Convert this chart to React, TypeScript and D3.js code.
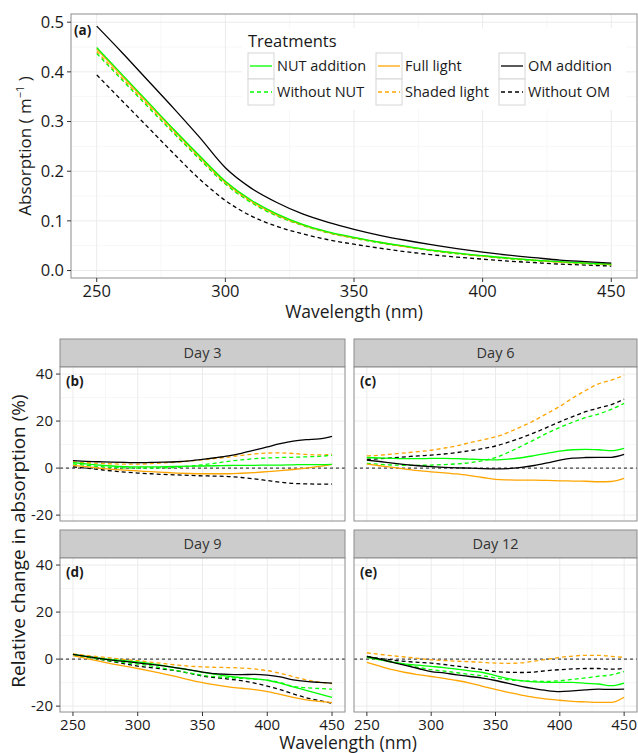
import * as d3 from "d3";

const wavelengths = [250, 260, 270, 280, 290, 300, 310, 320, 330, 340, 350, 360, 370, 380, 390, 400, 410, 420, 430, 440, 450];

// panel (a): absorption (m^-1)
const absNutAdd = [0.449, 0.394, 0.339, 0.284, 0.231, 0.180, 0.142, 0.114, 0.093, 0.078, 0.067, 0.057, 0.049, 0.041, 0.035, 0.030, 0.025, 0.021, 0.018, 0.015, 0.013];
const absWithoutNut = [0.437, 0.383, 0.329, 0.276, 0.224, 0.174, 0.137, 0.110, 0.091, 0.076, 0.065, 0.056, 0.048, 0.040, 0.034, 0.029, 0.024, 0.020, 0.017, 0.014, 0.012];
const absFullLight = [0.446, 0.391, 0.336, 0.282, 0.229, 0.178, 0.140, 0.112, 0.092, 0.077, 0.066, 0.057, 0.048, 0.041, 0.035, 0.029, 0.025, 0.021, 0.017, 0.015, 0.012];
const absShaded = [0.441, 0.386, 0.332, 0.278, 0.226, 0.176, 0.138, 0.111, 0.091, 0.076, 0.066, 0.056, 0.048, 0.040, 0.034, 0.029, 0.024, 0.020, 0.017, 0.014, 0.012];
const absOmAdd = [0.492, 0.438, 0.382, 0.326, 0.268, 0.207, 0.166, 0.137, 0.114, 0.097, 0.083, 0.071, 0.061, 0.052, 0.044, 0.037, 0.031, 0.026, 0.021, 0.018, 0.015];
const absWithoutOm = [0.394, 0.341, 0.288, 0.235, 0.184, 0.141, 0.110, 0.089, 0.074, 0.062, 0.053, 0.045, 0.038, 0.032, 0.027, 0.023, 0.019, 0.016, 0.013, 0.011, 0.009];

// panels (b)-(e): relative change in absorption (%)
const day3 = {
  nutAdd: [2.3, 1.8, 1.3, 0.9, 0.6, 0.5, 0.5, 0.6, 0.7, 0.8, 0.9, 1.0, 1.1, 1.2, 1.2, 1.3, 1.3, 1.4, 1.5, 1.5, 1.6],
  withoutNut: [1.8, 1.2, 0.7, 0.3, 0.1, 0.0, 0.0, 0.1, 0.3, 0.8, 1.4, 2.1, 2.9, 3.5, 4.0, 4.3, 4.5, 4.6, 4.8, 5.0, 5.4],
  fullLight: [1.2, 0.6, 0.0, -0.5, -0.9, -1.2, -1.5, -1.8, -2.1, -2.3, -2.4, -2.4, -2.4, -2.2, -1.9, -1.5, -1.1, -0.6, 0.0, 0.7, 1.6],
  shaded: [2.7, 2.3, 2.0, 1.8, 1.7, 1.7, 1.9, 2.2, 2.5, 3.0, 3.5, 4.1, 4.7, 5.4, 6.0, 6.4, 6.5, 6.2, 5.8, 5.6, 5.8],
  omAdd: [3.2, 2.9, 2.7, 2.5, 2.4, 2.3, 2.4, 2.5, 2.7, 3.1, 3.7, 4.4, 5.2, 6.3, 7.6, 9.0, 10.4, 11.5, 12.1, 12.4, 13.5],
  withoutOm: [0.5, 0.0, -0.6, -1.2, -1.7, -2.1, -2.4, -2.7, -2.9, -3.1, -3.3, -3.4, -3.6, -4.0, -4.6, -5.3, -6.0, -6.5, -6.7, -6.8, -6.8],
};
const day6 = {
  nutAdd: [4.5, 4.3, 4.1, 4.0, 4.0, 4.1, 4.1, 4.0, 3.8, 3.6, 3.5, 3.8, 4.4, 5.3, 6.3, 7.2, 7.8, 8.0, 7.8, 7.4, 8.4],
  withoutNut: [2.0, 1.6, 1.3, 1.2, 1.2, 1.3, 1.5, 1.8, 2.3, 3.2, 4.5, 6.7, 9.3, 12.0, 14.8, 17.3, 19.5, 21.5, 23.0, 25.0, 27.5],
  fullLight: [1.7, 1.0, 0.3, -0.4, -1.1, -1.6, -2.0, -2.5, -3.2, -4.0, -4.8, -5.0, -5.1, -5.1, -5.2, -5.4, -5.5, -5.6, -5.8, -5.7, -4.4],
  shaded: [5.2, 5.5, 6.0, 6.5, 7.0, 7.6, 8.5, 9.5, 10.8, 12.0, 13.3, 15.2, 17.6, 20.2, 23.2, 26.3, 29.8, 33.0, 35.8, 37.4, 39.5],
  omAdd: [3.4, 2.8, 2.1, 1.5, 1.0, 0.6, 0.3, 0.1, 0.0, -0.2, -0.3, -0.2, 0.3, 1.1, 2.2, 3.4, 4.2, 4.5, 4.6, 4.6, 5.8],
  withoutOm: [3.7, 4.0, 4.4, 4.8, 5.2, 5.5, 6.0, 6.6, 7.4, 8.3, 9.4, 11.0, 12.9, 15.0, 17.3, 19.7, 21.9, 24.0, 25.5, 27.0, 29.4],
};
const day9 = {
  nutAdd: [2.0, 1.2, 0.4, -0.2, -0.7, -1.2, -1.9, -2.8, -3.7, -4.6, -5.6, -6.5, -7.3, -7.9, -8.4, -9.0, -10.2, -11.8, -13.3, -14.8, -16.3],
  withoutNut: [2.0, 1.0, 0.0, -0.8, -1.5, -2.1, -2.9, -3.9, -4.9, -5.9, -6.9, -7.5, -7.9, -8.2, -8.5, -8.9, -10.0, -11.6, -12.2, -12.5, -12.8],
  fullLight: [1.5, 0.3, -0.9, -2.0, -3.0, -4.0, -5.1, -6.3, -7.5, -8.8, -10.0, -11.0, -11.8, -12.4, -13.0, -13.8, -15.0, -16.3, -17.3, -18.0, -18.5],
  shaded: [2.2, 1.6, 1.0, 0.4, -0.2, -0.7, -1.3, -1.9, -2.5, -3.0, -3.3, -3.5, -3.6, -3.8, -4.2, -4.9, -6.0, -7.5, -8.8, -9.8, -10.4],
  omAdd: [2.0, 1.2, 0.3, -0.4, -1.0, -1.6, -2.2, -2.9, -3.7, -4.6, -5.5, -6.2, -6.5, -6.6, -6.5, -6.8, -7.6, -8.8, -9.5, -9.9, -10.2],
  withoutOm: [2.0, 1.0, 0.0, -1.0, -2.0, -3.0, -3.6, -4.3, -5.0, -6.0, -7.2, -7.9, -8.5, -9.2, -10.2, -11.5, -13.0, -14.8, -16.4, -17.6, -18.8],
};
const day12 = {
  nutAdd: [0.7, -0.3, -1.3, -2.1, -2.6, -3.1, -3.6, -4.3, -5.0, -5.7, -7.0, -8.3, -9.2, -9.7, -9.9, -9.9, -9.9, -10.3, -10.6, -11.3, -10.2],
  withoutNut: [1.1, 0.0, -1.2, -2.3, -3.5, -4.5, -5.1, -5.8, -6.5, -7.1, -8.0, -8.8, -9.2, -9.4, -9.5, -9.2, -8.6, -8.0, -7.3, -6.7, -5.3],
  fullLight: [-1.4, -3.0, -4.5, -5.7, -6.6, -7.4, -8.2, -9.1, -10.2, -11.6, -12.9, -14.2, -15.3, -16.3, -17.0, -17.5, -18.0, -18.2, -18.4, -18.4, -16.2],
  shaded: [2.7, 2.0, 1.4, 0.9, 0.3, -0.3, -0.6, -0.9, -1.1, -1.4, -1.7, -1.8, -1.6, -0.9, -0.1, 0.7, 1.3, 1.6, 1.6, 1.2, 0.7],
  omAdd: [1.1, 0.0, -1.4, -2.7, -4.0, -5.3, -5.9, -6.7, -7.4, -8.1, -9.1, -10.3, -11.6, -12.6, -13.4, -13.8, -13.5, -13.1, -12.8, -12.9, -12.8],
  withoutOm: [1.1, 0.3, -0.4, -1.0, -1.4, -1.7, -2.3, -3.0, -3.7, -4.5, -5.3, -5.6, -5.7, -5.5, -4.9, -4.5, -4.2, -4.0, -4.0, -4.3, -4.0],
};

const facetDays = ["Day 3", "Day 6", "Day 9", "Day 12"];
const facetTags = ["(b)", "(c)", "(d)", "(e)"];
const facetData = [day3, day6, day9, day12];

const treatments = [
  { key: "nutAdd", label: "NUT addition", color: "#00ff00", dashed: false },
  { key: "withoutNut", label: "Without NUT", color: "#00ff00", dashed: true },
  { key: "fullLight", label: "Full light", color: "#ffa500", dashed: false },
  { key: "shaded", label: "Shaded light", color: "#ffa500", dashed: true },
  { key: "omAdd", label: "OM addition", color: "#000000", dashed: false },
  { key: "withoutOm", label: "Without OM", color: "#000000", dashed: true },
];
const absSeries: Record<string, number[]> = {
  nutAdd: absNutAdd,
  withoutNut: absWithoutNut,
  fullLight: absFullLight,
  shaded: absShaded,
  omAdd: absOmAdd,
  withoutOm: absWithoutOm,
};
// drawing order (back to front)
const drawOrder = ["withoutOm", "shaded", "withoutNut", "fullLight", "nutAdd", "omAdd"];

const xTicks = [250, 300, 350, 400, 450];
const xMinor = [275, 325, 375, 425];
const absTicks = [0, 0.1, 0.2, 0.3, 0.4, 0.5];
const absMinor = [0.05, 0.15, 0.25, 0.35, 0.45];
const relTicks = [-20, 0, 20, 40];
const relMinor = [-10, 10, 30];

const FONT = "'Open Sans', 'Noto Sans', sans-serif";
const TXT = "#1a1a1a";
const GRID = "#ebebeb";
const GRID_MINOR = "#f7f7f7";
const BORDER = "#8c8c8c";
const DASH = "4,3";

function Series({ xs, ys, x, y }: { xs: number[]; ys: Record<string, number[]>; x: any; y: any }) {
  return (
    <g>
      {drawOrder.map((k) => {
        const t = treatments.find((d) => d.key === k)!;
        const line = d3
          .line<number>()
          .x((_, i) => x(xs[i]))
          .y((v) => y(v))
          .curve(d3.curveMonotoneX);
        return (
          <path
            key={k}
            d={line(ys[k]) || ""}
            fill="none"
            stroke={t.color}
            strokeWidth={1.3}
            strokeDasharray={t.dashed ? DASH : undefined}
          />
        );
      })}
    </g>
  );
}

export default function App() {
  // ---- panel (a)
  const a = { l: 71, r: 637, t: 14, b: 278 };
  const xa = d3.scaleLinear().domain([240, 460]).range([a.l, a.r]);
  const ya = d3.scaleLinear().domain([-0.015, 0.5165]).range([a.b, a.t]);

  // ---- facets
  const cols = [
    [60, 345],
    [354, 637],
  ];
  const rows = [
    { st: 339, t: 367, b: 521 },
    { st: 530, t: 558, b: 712 },
  ];

  const legendCols = [248, 376, 499];
  const legendRows = [53, 79];

  return (
    <svg width={638} height={753} style={{ position: "absolute", left: 0, top: 0 }} fontFamily={FONT}>
      <rect width={638} height={753} fill="#fff" />
      {/* panel (a) */}
      <g>
        <rect x={a.l} y={a.t} width={a.r - a.l} height={a.b - a.t} fill="#fff" />
        {xMinor.map((v) => (
          <line key={"xm" + v} x1={xa(v)} x2={xa(v)} y1={a.t} y2={a.b} stroke={GRID_MINOR} strokeWidth={1} />
        ))}
        {absMinor.map((v) => (
          <line key={"ym" + v} x1={a.l} x2={a.r} y1={ya(v)} y2={ya(v)} stroke={GRID_MINOR} strokeWidth={1} />
        ))}
        {xTicks.map((v) => (
          <line key={"xg" + v} x1={xa(v)} x2={xa(v)} y1={a.t} y2={a.b} stroke={GRID} strokeWidth={1} />
        ))}
        {absTicks.map((v) => (
          <line key={"yg" + v} x1={a.l} x2={a.r} y1={ya(v)} y2={ya(v)} stroke={GRID} strokeWidth={1} />
        ))}
        <Series xs={wavelengths} ys={absSeries} x={xa} y={ya} />
        <rect x={a.l} y={a.t} width={a.r - a.l} height={a.b - a.t} fill="none" stroke={BORDER} strokeWidth={1} />
        <text x={74} y={35} fontSize={13.5} fontWeight="bold" fill={TXT}>(a)</text>
        {absTicks.map((v) => (
          <g key={"yt" + v}>
            <line x1={a.l - 4} x2={a.l} y1={ya(v)} y2={ya(v)} stroke="#333" />
            <text x={a.l - 7} y={ya(v)} dy="0.35em" textAnchor="end" fontSize={16.5} fill={TXT}>
              {v.toFixed(1)}
            </text>
          </g>
        ))}
        {xTicks.map((v) => (
          <g key={"xt" + v}>
            <line x1={xa(v)} x2={xa(v)} y1={a.b} y2={a.b + 4} stroke="#333" />
            <text x={xa(v)} y={a.b + 19} textAnchor="middle" fontSize={16.5} fill={TXT}>
              {v}
            </text>
          </g>
        ))}
        <text x={(a.l + a.r) / 2} y={318} textAnchor="middle" fontSize={17.5} fill={TXT}>
          Wavelength (nm)
        </text>
        <text transform={`translate(31,${(a.t + a.b) / 2}) rotate(-90)`} textAnchor="middle" fontSize={17} fill={TXT}>
          Absorption ( m<tspan fontSize={11} dy={-7}>−1</tspan>
          <tspan dy={7}> )</tspan>
        </text>

        {/* legend */}
        <rect x={242} y={28} width={384} height={82} fill="#fff" />
        <text x={248} y={47} fontSize={16.5} fill={TXT}>Treatments</text>
        {treatments.map((t, i) => {
          const cx = legendCols[Math.floor(i / 2)];
          const cy = legendRows[i % 2];
          return (
            <g key={t.key}>
              <rect x={cx} y={cy} width={26} height={26} fill="#fff" stroke="#d6d6d6" strokeWidth={1} />
              <line
                x1={cx + 2}
                x2={cx + 24}
                y1={cy + 13}
                y2={cy + 13}
                stroke={t.color}
                strokeWidth={1.3}
                strokeDasharray={t.dashed ? DASH : undefined}
              />
              <text x={cx + 29} y={cy + 13} dy="0.35em" fontSize={14.5} fill={TXT}>
                {t.label}
              </text>
            </g>
          );
        })}
      </g>

      {/* facets */}
      {facetDays.map((day, fi) => {
        const c = cols[fi % 2];
        const r = rows[Math.floor(fi / 2)];
        const x = d3.scaleLinear().domain([240, 460]).range([c[0], c[1]]);
        const y = d3.scaleLinear().domain([-22.5, 43]).range([r.b, r.t]);
        const isLeft = fi % 2 === 0;
        const isBottom = fi >= 2;
        return (
          <g key={day}>
            <rect x={c[0]} y={r.st} width={c[1] - c[0]} height={r.t - r.st} fill="#cccccc" stroke={BORDER} strokeWidth={1} />
            <text x={(c[0] + c[1]) / 2} y={(r.st + r.t) / 2} dy="0.35em" textAnchor="middle" fontSize={14.5} fill="#333">
              {day}
            </text>
            <rect x={c[0]} y={r.t} width={c[1] - c[0]} height={r.b - r.t} fill="#fff" />
            {xMinor.map((v) => (
              <line key={"xm" + v} x1={x(v)} x2={x(v)} y1={r.t} y2={r.b} stroke={GRID_MINOR} />
            ))}
            {relMinor.map((v) => (
              <line key={"ym" + v} x1={c[0]} x2={c[1]} y1={y(v)} y2={y(v)} stroke={GRID_MINOR} />
            ))}
            {xTicks.map((v) => (
              <line key={"xg" + v} x1={x(v)} x2={x(v)} y1={r.t} y2={r.b} stroke={GRID} />
            ))}
            {relTicks.map((v) => (
              <line key={"yg" + v} x1={c[0]} x2={c[1]} y1={y(v)} y2={y(v)} stroke={GRID} />
            ))}
            <line x1={c[0]} x2={c[1]} y1={y(0)} y2={y(0)} stroke="#000" strokeWidth={0.9} strokeDasharray="3,3" />
            <Series xs={wavelengths} ys={facetData[fi] as Record<string, number[]>} x={x} y={y} />
            <rect x={c[0]} y={r.t} width={c[1] - c[0]} height={r.b - r.t} fill="none" stroke={BORDER} strokeWidth={1} />
            <text x={c[0] + 6} y={r.t + 19} fontSize={13.5} fontWeight="bold" fill={TXT}>
              {facetTags[fi]}
            </text>
            {isLeft &&
              relTicks.map((v) => (
                <g key={"yt" + v}>
                  <line x1={c[0] - 4} x2={c[0]} y1={y(v)} y2={y(v)} stroke="#333" />
                  <text x={c[0] - 7} y={y(v)} dy="0.35em" textAnchor="end" fontSize={15} fill={TXT}>
                    {v}
                  </text>
                </g>
              ))}
            {isBottom &&
              xTicks.map((v) => (
                <g key={"xt" + v}>
                  <line x1={x(v)} x2={x(v)} y1={r.b} y2={r.b + 4} stroke="#333" />
                  <text x={x(v)} y={r.b + 18} textAnchor="middle" fontSize={15} fill={TXT}>
                    {v}
                  </text>
                </g>
              ))}
          </g>
        );
      })}
      <text x={348} y={749} textAnchor="middle" fontSize={17.5} fill={TXT}>
        Wavelength (nm)
      </text>
      <text transform={`translate(25,541) rotate(-90)`} textAnchor="middle" fontSize={19} fill={TXT}>
        Relative change in absorption (%)
      </text>
    </svg>
  );
}
